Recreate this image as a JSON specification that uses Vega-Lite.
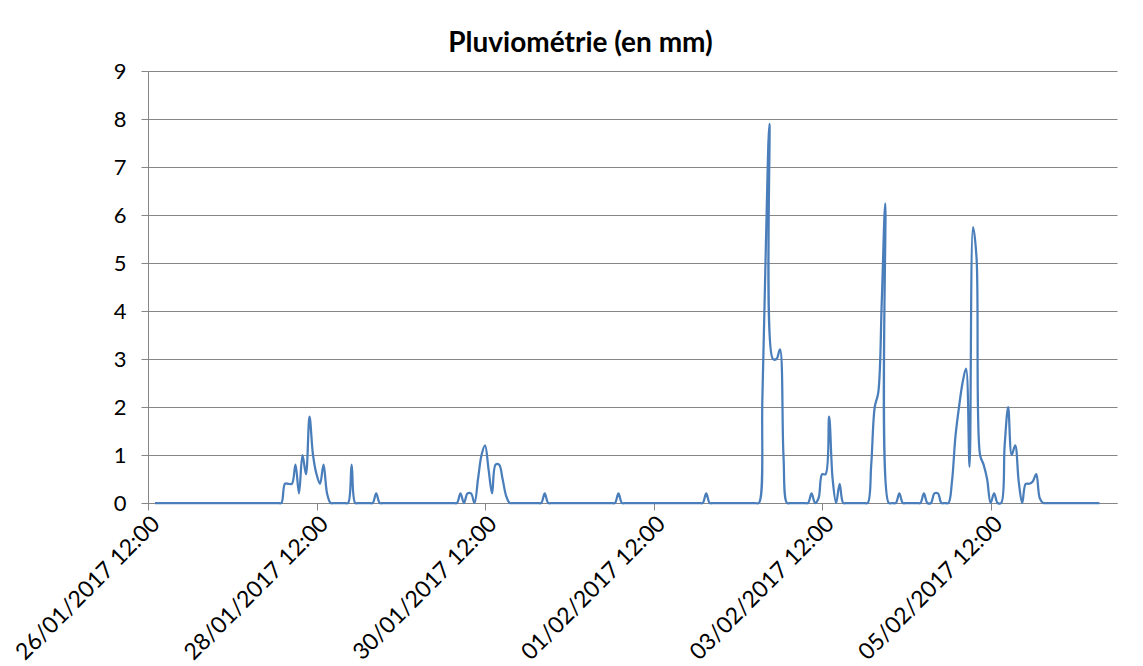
{
  "$schema": "https://vega.github.io/schema/vega-lite/v6.json",
  "width": 969,
  "height": 432,
  "autosize": {"type": "none"},
  "padding": {"left": 148, "top": 71, "right": 26, "bottom": 163},
  "background": "white",
  "title": {"text": "Pluviométrie (en mm)", "font": "Lato", "fontSize": 28, "fontWeight": "bold", "color": "#000000", "anchor": "middle", "frame": "group", "dx": -52, "offset": 2},
  "data": {"values": [
    {"t": "2017-01-26T14:00", "v": 0}, {"t": "2017-01-26T15:00", "v": 0}, {"t": "2017-01-26T16:00", "v": 0}, {"t": "2017-01-26T17:00", "v": 0}, {"t": "2017-01-26T18:00", "v": 0},
    {"t": "2017-01-26T19:00", "v": 0}, {"t": "2017-01-26T20:00", "v": 0}, {"t": "2017-01-26T21:00", "v": 0}, {"t": "2017-01-26T22:00", "v": 0}, {"t": "2017-01-26T23:00", "v": 0},
    {"t": "2017-01-27T00:00", "v": 0}, {"t": "2017-01-27T01:00", "v": 0}, {"t": "2017-01-27T02:00", "v": 0}, {"t": "2017-01-27T03:00", "v": 0}, {"t": "2017-01-27T04:00", "v": 0}, {"t": "2017-01-27T05:00", "v": 0},
    {"t": "2017-01-27T06:00", "v": 0}, {"t": "2017-01-27T07:00", "v": 0}, {"t": "2017-01-27T08:00", "v": 0}, {"t": "2017-01-27T09:00", "v": 0}, {"t": "2017-01-27T10:00", "v": 0}, {"t": "2017-01-27T11:00", "v": 0},
    {"t": "2017-01-27T12:00", "v": 0}, {"t": "2017-01-27T13:00", "v": 0}, {"t": "2017-01-27T14:00", "v": 0}, {"t": "2017-01-27T15:00", "v": 0}, {"t": "2017-01-27T16:00", "v": 0}, {"t": "2017-01-27T17:00", "v": 0},
    {"t": "2017-01-27T18:00", "v": 0}, {"t": "2017-01-27T19:00", "v": 0}, {"t": "2017-01-27T20:00", "v": 0}, {"t": "2017-01-27T21:00", "v": 0}, {"t": "2017-01-27T22:00", "v": 0}, {"t": "2017-01-27T23:00", "v": 0},
    {"t": "2017-01-28T00:00", "v": 0}, {"t": "2017-01-28T01:00", "v": 0}, {"t": "2017-01-28T02:00", "v": 0}, {"t": "2017-01-28T03:00", "v": 0.4}, {"t": "2017-01-28T04:00", "v": 0.4}, {"t": "2017-01-28T05:00", "v": 0.4},
    {"t": "2017-01-28T06:00", "v": 0.8}, {"t": "2017-01-28T07:00", "v": 0.2}, {"t": "2017-01-28T08:00", "v": 1.0}, {"t": "2017-01-28T09:00", "v": 0.6}, {"t": "2017-01-28T10:00", "v": 1.8}, {"t": "2017-01-28T11:00", "v": 1.0},
    {"t": "2017-01-28T12:00", "v": 0.6}, {"t": "2017-01-28T13:00", "v": 0.4}, {"t": "2017-01-28T14:00", "v": 0.8}, {"t": "2017-01-28T15:00", "v": 0.2}, {"t": "2017-01-28T16:00", "v": 0}, {"t": "2017-01-28T17:00", "v": 0},
    {"t": "2017-01-28T18:00", "v": 0}, {"t": "2017-01-28T19:00", "v": 0}, {"t": "2017-01-28T20:00", "v": 0}, {"t": "2017-01-28T21:00", "v": 0}, {"t": "2017-01-28T22:00", "v": 0.8}, {"t": "2017-01-28T23:00", "v": 0},
    {"t": "2017-01-29T00:00", "v": 0}, {"t": "2017-01-29T01:00", "v": 0}, {"t": "2017-01-29T02:00", "v": 0}, {"t": "2017-01-29T03:00", "v": 0}, {"t": "2017-01-29T04:00", "v": 0}, {"t": "2017-01-29T05:00", "v": 0.2},
    {"t": "2017-01-29T06:00", "v": 0}, {"t": "2017-01-29T07:00", "v": 0}, {"t": "2017-01-29T08:00", "v": 0}, {"t": "2017-01-29T09:00", "v": 0}, {"t": "2017-01-29T10:00", "v": 0}, {"t": "2017-01-29T11:00", "v": 0},
    {"t": "2017-01-29T12:00", "v": 0}, {"t": "2017-01-29T13:00", "v": 0}, {"t": "2017-01-29T14:00", "v": 0}, {"t": "2017-01-29T15:00", "v": 0}, {"t": "2017-01-29T16:00", "v": 0}, {"t": "2017-01-29T17:00", "v": 0},
    {"t": "2017-01-29T18:00", "v": 0}, {"t": "2017-01-29T19:00", "v": 0}, {"t": "2017-01-29T20:00", "v": 0}, {"t": "2017-01-29T21:00", "v": 0}, {"t": "2017-01-29T22:00", "v": 0}, {"t": "2017-01-29T23:00", "v": 0},
    {"t": "2017-01-30T00:00", "v": 0}, {"t": "2017-01-30T01:00", "v": 0}, {"t": "2017-01-30T02:00", "v": 0}, {"t": "2017-01-30T03:00", "v": 0}, {"t": "2017-01-30T04:00", "v": 0}, {"t": "2017-01-30T05:00", "v": 0.2},
    {"t": "2017-01-30T06:00", "v": 0}, {"t": "2017-01-30T07:00", "v": 0.2}, {"t": "2017-01-30T08:00", "v": 0.2}, {"t": "2017-01-30T09:00", "v": 0}, {"t": "2017-01-30T10:00", "v": 0.5}, {"t": "2017-01-30T11:00", "v": 1.0},
    {"t": "2017-01-30T12:00", "v": 1.2}, {"t": "2017-01-30T13:00", "v": 0.7}, {"t": "2017-01-30T14:00", "v": 0.2}, {"t": "2017-01-30T15:00", "v": 0.8}, {"t": "2017-01-30T16:00", "v": 0.8}, {"t": "2017-01-30T17:00", "v": 0.5},
    {"t": "2017-01-30T18:00", "v": 0.15}, {"t": "2017-01-30T19:00", "v": 0}, {"t": "2017-01-30T20:00", "v": 0}, {"t": "2017-01-30T21:00", "v": 0}, {"t": "2017-01-30T22:00", "v": 0}, {"t": "2017-01-30T23:00", "v": 0},
    {"t": "2017-01-31T00:00", "v": 0}, {"t": "2017-01-31T01:00", "v": 0}, {"t": "2017-01-31T02:00", "v": 0}, {"t": "2017-01-31T03:00", "v": 0}, {"t": "2017-01-31T04:00", "v": 0}, {"t": "2017-01-31T05:00", "v": 0.2},
    {"t": "2017-01-31T06:00", "v": 0}, {"t": "2017-01-31T07:00", "v": 0}, {"t": "2017-01-31T08:00", "v": 0}, {"t": "2017-01-31T09:00", "v": 0}, {"t": "2017-01-31T10:00", "v": 0}, {"t": "2017-01-31T11:00", "v": 0},
    {"t": "2017-01-31T12:00", "v": 0}, {"t": "2017-01-31T13:00", "v": 0}, {"t": "2017-01-31T14:00", "v": 0}, {"t": "2017-01-31T15:00", "v": 0}, {"t": "2017-01-31T16:00", "v": 0}, {"t": "2017-01-31T17:00", "v": 0},
    {"t": "2017-01-31T18:00", "v": 0}, {"t": "2017-01-31T19:00", "v": 0}, {"t": "2017-01-31T20:00", "v": 0}, {"t": "2017-01-31T21:00", "v": 0}, {"t": "2017-01-31T22:00", "v": 0}, {"t": "2017-01-31T23:00", "v": 0},
    {"t": "2017-02-01T00:00", "v": 0}, {"t": "2017-02-01T01:00", "v": 0}, {"t": "2017-02-01T02:00", "v": 0.2}, {"t": "2017-02-01T03:00", "v": 0}, {"t": "2017-02-01T04:00", "v": 0}, {"t": "2017-02-01T05:00", "v": 0},
    {"t": "2017-02-01T06:00", "v": 0}, {"t": "2017-02-01T07:00", "v": 0}, {"t": "2017-02-01T08:00", "v": 0}, {"t": "2017-02-01T09:00", "v": 0}, {"t": "2017-02-01T10:00", "v": 0}, {"t": "2017-02-01T11:00", "v": 0},
    {"t": "2017-02-01T12:00", "v": 0}, {"t": "2017-02-01T13:00", "v": 0}, {"t": "2017-02-01T14:00", "v": 0}, {"t": "2017-02-01T15:00", "v": 0}, {"t": "2017-02-01T16:00", "v": 0}, {"t": "2017-02-01T17:00", "v": 0},
    {"t": "2017-02-01T18:00", "v": 0}, {"t": "2017-02-01T19:00", "v": 0}, {"t": "2017-02-01T20:00", "v": 0}, {"t": "2017-02-01T21:00", "v": 0}, {"t": "2017-02-01T22:00", "v": 0}, {"t": "2017-02-01T23:00", "v": 0},
    {"t": "2017-02-02T00:00", "v": 0}, {"t": "2017-02-02T01:00", "v": 0}, {"t": "2017-02-02T02:00", "v": 0}, {"t": "2017-02-02T03:00", "v": 0.2}, {"t": "2017-02-02T04:00", "v": 0}, {"t": "2017-02-02T05:00", "v": 0},
    {"t": "2017-02-02T06:00", "v": 0}, {"t": "2017-02-02T07:00", "v": 0}, {"t": "2017-02-02T08:00", "v": 0}, {"t": "2017-02-02T09:00", "v": 0}, {"t": "2017-02-02T10:00", "v": 0}, {"t": "2017-02-02T11:00", "v": 0},
    {"t": "2017-02-02T12:00", "v": 0}, {"t": "2017-02-02T13:00", "v": 0}, {"t": "2017-02-02T14:00", "v": 0}, {"t": "2017-02-02T15:00", "v": 0}, {"t": "2017-02-02T16:00", "v": 0}, {"t": "2017-02-02T17:00", "v": 0},
    {"t": "2017-02-02T18:00", "v": 0}, {"t": "2017-02-02T19:00", "v": 2.2}, {"t": "2017-02-02T20:00", "v": 5.4}, {"t": "2017-02-02T21:00", "v": 7.9}, {"t": "2017-02-02T22:00", "v": 3.0}, {"t": "2017-02-02T23:00", "v": 3.0},
    {"t": "2017-02-03T00:00", "v": 3.2}, {"t": "2017-02-03T01:00", "v": 1.0}, {"t": "2017-02-03T02:00", "v": 0}, {"t": "2017-02-03T03:00", "v": 0}, {"t": "2017-02-03T04:00", "v": 0}, {"t": "2017-02-03T05:00", "v": 0},
    {"t": "2017-02-03T06:00", "v": 0}, {"t": "2017-02-03T07:00", "v": 0}, {"t": "2017-02-03T08:00", "v": 0}, {"t": "2017-02-03T09:00", "v": 0.2}, {"t": "2017-02-03T10:00", "v": 0}, {"t": "2017-02-03T11:00", "v": 0.1},
    {"t": "2017-02-03T12:00", "v": 0.6}, {"t": "2017-02-03T13:00", "v": 0.6}, {"t": "2017-02-03T14:00", "v": 1.8}, {"t": "2017-02-03T15:00", "v": 0.5}, {"t": "2017-02-03T16:00", "v": 0}, {"t": "2017-02-03T17:00", "v": 0.4},
    {"t": "2017-02-03T18:00", "v": 0}, {"t": "2017-02-03T19:00", "v": 0}, {"t": "2017-02-03T20:00", "v": 0}, {"t": "2017-02-03T21:00", "v": 0}, {"t": "2017-02-03T22:00", "v": 0}, {"t": "2017-02-03T23:00", "v": 0},
    {"t": "2017-02-04T00:00", "v": 0}, {"t": "2017-02-04T01:00", "v": 0}, {"t": "2017-02-04T02:00", "v": 0.8}, {"t": "2017-02-04T03:00", "v": 2.0}, {"t": "2017-02-04T04:00", "v": 2.3}, {"t": "2017-02-04T05:00", "v": 4.2},
    {"t": "2017-02-04T06:00", "v": 6.24}, {"t": "2017-02-04T07:00", "v": 0}, {"t": "2017-02-04T08:00", "v": 0}, {"t": "2017-02-04T09:00", "v": 0}, {"t": "2017-02-04T10:00", "v": 0.2}, {"t": "2017-02-04T11:00", "v": 0},
    {"t": "2017-02-04T12:00", "v": 0}, {"t": "2017-02-04T13:00", "v": 0}, {"t": "2017-02-04T14:00", "v": 0}, {"t": "2017-02-04T15:00", "v": 0}, {"t": "2017-02-04T16:00", "v": 0}, {"t": "2017-02-04T17:00", "v": 0.2},
    {"t": "2017-02-04T18:00", "v": 0}, {"t": "2017-02-04T19:00", "v": 0}, {"t": "2017-02-04T20:00", "v": 0.2}, {"t": "2017-02-04T21:00", "v": 0.2}, {"t": "2017-02-04T22:00", "v": 0}, {"t": "2017-02-04T23:00", "v": 0},
    {"t": "2017-02-05T00:00", "v": 0}, {"t": "2017-02-05T01:00", "v": 0.45}, {"t": "2017-02-05T02:00", "v": 1.4}, {"t": "2017-02-05T03:00", "v": 2.0}, {"t": "2017-02-05T04:00", "v": 2.5}, {"t": "2017-02-05T05:00", "v": 2.8},
    {"t": "2017-02-05T06:00", "v": 0.75}, {"t": "2017-02-05T07:00", "v": 5.75}, {"t": "2017-02-05T08:00", "v": 5.1}, {"t": "2017-02-05T09:00", "v": 1.0}, {"t": "2017-02-05T10:00", "v": 0.8}, {"t": "2017-02-05T11:00", "v": 0.5},
    {"t": "2017-02-05T12:00", "v": 0}, {"t": "2017-02-05T13:00", "v": 0.2}, {"t": "2017-02-05T14:00", "v": 0}, {"t": "2017-02-05T15:00", "v": 0}, {"t": "2017-02-05T16:00", "v": 1.2}, {"t": "2017-02-05T17:00", "v": 2.0},
    {"t": "2017-02-05T18:00", "v": 1.0}, {"t": "2017-02-05T19:00", "v": 1.2}, {"t": "2017-02-05T20:00", "v": 0.45}, {"t": "2017-02-05T21:00", "v": 0}, {"t": "2017-02-05T22:00", "v": 0.4}, {"t": "2017-02-05T23:00", "v": 0.4},
    {"t": "2017-02-06T00:00", "v": 0.45}, {"t": "2017-02-06T01:00", "v": 0.6}, {"t": "2017-02-06T02:00", "v": 0.1}, {"t": "2017-02-06T03:00", "v": 0}, {"t": "2017-02-06T04:00", "v": 0}, {"t": "2017-02-06T05:00", "v": 0},
    {"t": "2017-02-06T06:00", "v": 0}, {"t": "2017-02-06T07:00", "v": 0}, {"t": "2017-02-06T08:00", "v": 0}, {"t": "2017-02-06T09:00", "v": 0}, {"t": "2017-02-06T10:00", "v": 0}, {"t": "2017-02-06T11:00", "v": 0},
    {"t": "2017-02-06T12:00", "v": 0}, {"t": "2017-02-06T13:00", "v": 0}, {"t": "2017-02-06T14:00", "v": 0}, {"t": "2017-02-06T15:00", "v": 0}, {"t": "2017-02-06T16:00", "v": 0}, {"t": "2017-02-06T17:00", "v": 0},
    {"t": "2017-02-06T18:00", "v": 0}, {"t": "2017-02-06T19:00", "v": 0}
  ]},
  "mark": {"type": "line", "interpolate": "catmull-rom", "color": "#4A7EBB", "strokeWidth": 2.25},
  "encoding": {
    "x": {
      "field": "t", "type": "temporal",
      "scale": {"domain": [{"year": 2017, "month": 1, "date": 26, "hours": 12}, {"year": 2017, "month": 2, "date": 7, "hours": 0}]},
      "axis": {
        "title": null,
        "values": [
          {"year": 2017, "month": 1, "date": 26, "hours": 12},
          {"year": 2017, "month": 1, "date": 28, "hours": 12},
          {"year": 2017, "month": 1, "date": 30, "hours": 12},
          {"year": 2017, "month": 2, "date": 1, "hours": 12},
          {"year": 2017, "month": 2, "date": 3, "hours": 12},
          {"year": 2017, "month": 2, "date": 5, "hours": 12}
        ],
        "format": "%d/%m/%Y %H:%M",
        "labelAngle": -45,
        "labelAlign": "right",
        "labelBaseline": "top",
        "labelFont": "Lato",
        "labelFontSize": 23,
        "labelColor": "#000000",
        "labelPadding": 2,
        "labelLimit": 0,
        "labelOverlap": false,
        "labelBound": false,
        "labelFlush": false,
        "grid": false,
        "domainColor": "#868686",
        "tickColor": "#868686",
        "tickSize": 7
      }
    },
    "y": {
      "field": "v", "type": "quantitative",
      "scale": {"domain": [0, 9], "nice": false},
      "axis": {
        "title": null,
        "values": [0, 1, 2, 3, 4, 5, 6, 7, 8, 9],
        "format": "d",
        "labelFont": "Lato",
        "labelFontSize": 22,
        "labelColor": "#000000",
        "labelPadding": 15,
        "grid": true,
        "gridColor": "#868686",
        "gridWidth": 1,
        "domainColor": "#868686",
        "tickColor": "#868686",
        "tickSize": 7
      }
    }
  },
  "config": {"view": {"stroke": null}}
}
